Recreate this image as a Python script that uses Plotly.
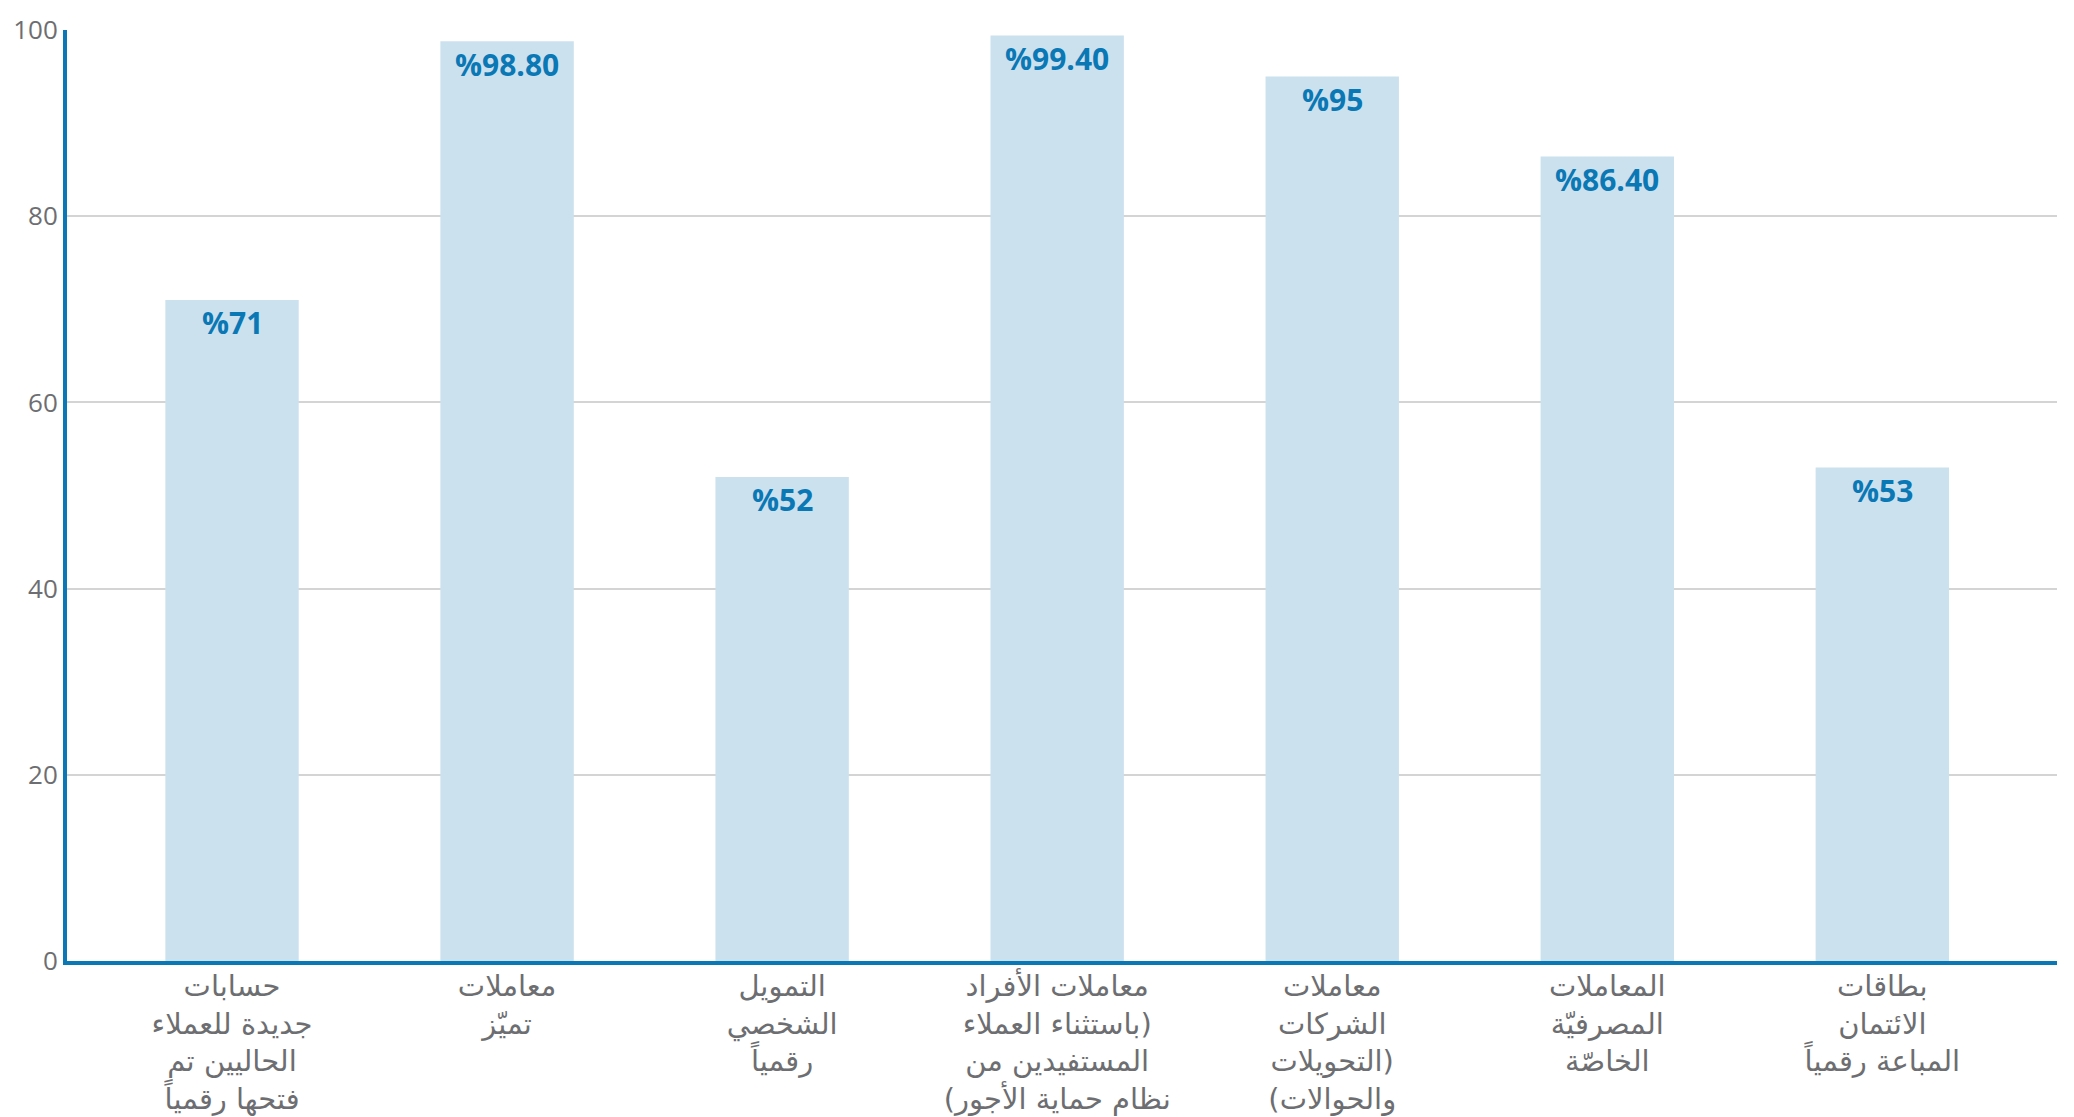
import plotly.graph_objects as go

# Parentheses are written so that they display as in the reference
# (the browser lays these Arabic lines out right-to-left).
categories = [
    "حسابات<br>جديدة للعملاء<br>الحاليين تم<br>فتحها رقمياً",
    "معاملات<br>تميّز",
    "التمويل<br>الشخصي<br>رقمياً",
    "معاملات الأفراد<br>باستثناء العملاء)<br>المستفيدين من<br>(نظام حماية الأجور",
    "معاملات<br>الشركات<br>التحويلات)<br>(والحوالات",
    "المعاملات<br>المصرفيّة<br>الخاصّة",
    "بطاقات<br>الائتمان<br>المباعة رقمياً",
]
values = [71, 98.8, 52, 99.4, 95, 86.4, 53]
value_labels = ["%71", "%98.80", "%52", "%99.40", "%95", "%86.40", "%53"]
y_ticks = [0, 20, 40, 60, 80, 100]

BLUE = "#0a78b5"
BAR = "#cce1ee"
GRAY = "#6d6e71"

xs = list(range(len(categories)))

fig = go.Figure()
fig.add_trace(go.Bar(
    x=xs, y=values, width=0.485,
    marker=dict(color=BAR, line=dict(width=0)),
    hoverinfo="skip",
))

for x, v, t in zip(xs, values, value_labels):
    fig.add_annotation(
        x=x, y=v, text=f"<b>{t}</b>", showarrow=False,
        yanchor="middle", yshift=-23,
        font=dict(family="Open Sans, DejaVu Sans", size=30, color=BLUE),
    )

fig.update_layout(
    width=2074, height=1117,
    margin=dict(l=59, r=25, t=22, b=164, pad=0),
    paper_bgcolor="white", plot_bgcolor="white",
    showlegend=False,
    font=dict(family="Open Sans, DejaVu Sans", color=GRAY),
)
fig.update_xaxes(
    range=[-0.6, 6.635], automargin=False,
    tickmode="array", tickvals=xs, ticktext=categories,
    tickfont=dict(family="DejaVu Sans, Noto Sans", size=29, color=GRAY),
    showline=True, linecolor=BLUE, linewidth=4,
    showgrid=False, zeroline=False, ticks="", ticklabelstandoff=-4,
)
fig.update_yaxes(
    range=[0, 100], automargin=False,
    tickmode="array", tickvals=y_ticks, ticktext=[str(t) for t in y_ticks],
    tickfont=dict(family="Open Sans, DejaVu Sans", size=26, color=GRAY),
    showline=True, linecolor=BLUE, linewidth=4,
    showgrid=True, gridcolor="#d4d4d4", gridwidth=1.5,
    zeroline=False, ticks="", ticklabelstandoff=0,
)

fig.write_html("out.html")
